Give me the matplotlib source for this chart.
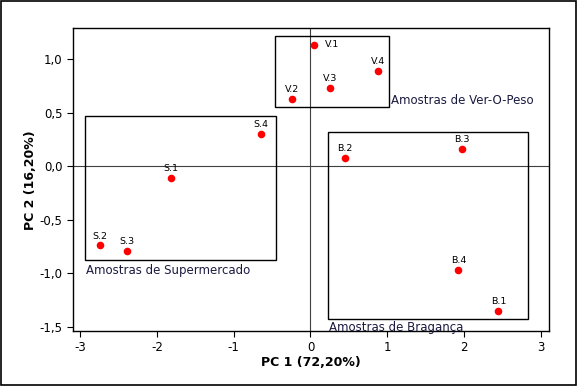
import matplotlib
matplotlib.use("Agg")
import matplotlib.pyplot as plt
from matplotlib.patches import Rectangle

# sample scores on the first two principal components
names = ["V.1", "V.2", "V.3", "V.4",
         "S.1", "S.2", "S.3", "S.4",
         "B.1", "B.2", "B.3", "B.4"]
pc1 = [0.04, -0.24, 0.26, 0.88,
       -1.82, -2.75, -2.39, -0.65,
       2.45, 0.45, 1.98, 1.93]
pc2 = [1.14, 0.63, 0.73, 0.89,
       -0.11, -0.74, -0.79, 0.30,
       -1.35, 0.08, 0.16, -0.97]

# group boxes: (x0, x1, y0, y1) in PC units, plus caption
group_names = ["Amostras de Ver-O-Peso", "Amostras de Supermercado", "Amostras de Bragança"]
group_boxes = [(-0.46, 1.02, 0.56, 1.22),
               (-2.94, -0.45, -0.88, 0.47),
               (0.23, 2.84, -1.43, 0.32)]

x_ticks = [-3, -2, -1, 0, 1, 2, 3]
y_ticks = [-1.5, -1.0, -0.5, 0.0, 0.5, 1.0]

plt.rcParams["font.family"] = "DejaVu Sans"

fig = plt.figure(figsize=(5.78, 3.86), dpi=100)
ax = fig.add_axes([0.1258, 0.1425, 0.824, 0.7837])

# reference lines through the origin
ax.axhline(0, color="#404040", lw=0.8, zorder=1)
ax.axvline(0, color="#404040", lw=0.8, zorder=1)

for (x0, x1, y0, y1) in group_boxes:
    ax.add_patch(Rectangle((x0, y0), x1 - x0, y1 - y0, fill=False,
                           edgecolor="black", lw=1.0, zorder=2))

# captions next to the boxes
vx0, vx1, vy0, vy1 = group_boxes[0]
ax.text(vx1 + 0.03, vy0 + 0.06, group_names[0], fontsize=8.5,
        color="#1a1a40", ha="left", va="center")
sx0, sx1, sy0, sy1 = group_boxes[1]
ax.text(sx0 + 0.01, sy0 - 0.09, group_names[1], fontsize=8.5,
        color="#1a1a40", ha="left", va="center")
bx0, bx1, by0, by1 = group_boxes[2]
ax.text(bx0 + 0.01, by0 - 0.08, group_names[2], fontsize=8.5,
        color="#1a1a40", ha="left", va="center")

ax.scatter(pc1, pc2, s=30, color="#ff0000", zorder=3, linewidths=0)

for name, x, y in zip(names, pc1, pc2):
    if name == "V.1":
        ax.annotate(name, (x, y), xytext=(8, 0), textcoords="offset points",
                    fontsize=6.8, ha="left", va="center")
    else:
        ax.annotate(name, (x, y), xytext=(0, 3.5), textcoords="offset points",
                    fontsize=6.8, ha="center", va="bottom")

ax.set_xlim(-3.1, 3.11)
ax.set_ylim(-1.54, 1.29)
ax.set_xticks(x_ticks)
ax.set_xticklabels([str(t) for t in x_ticks])
ax.set_yticks(y_ticks)
ax.set_yticklabels([f"{t:.1f}".replace(".", ",") for t in y_ticks])
ax.tick_params(labelsize=8.5, length=4, width=0.8, direction="out")

ax.set_xlabel("PC 1 (72,20%)", fontsize=9, fontweight="bold", labelpad=1)
ax.set_ylabel("PC 2 (16,20%)", fontsize=9, fontweight="bold", labelpad=2)

for sp in ax.spines.values():
    sp.set_linewidth(1.0)

# outer frame around the whole picture
fig.patches.append(Rectangle((0.002, 0.003), 0.995, 0.994, transform=fig.transFigure,
                             fill=False, edgecolor="black", lw=1.2))

fig.savefig("out.png", dpi=100)
